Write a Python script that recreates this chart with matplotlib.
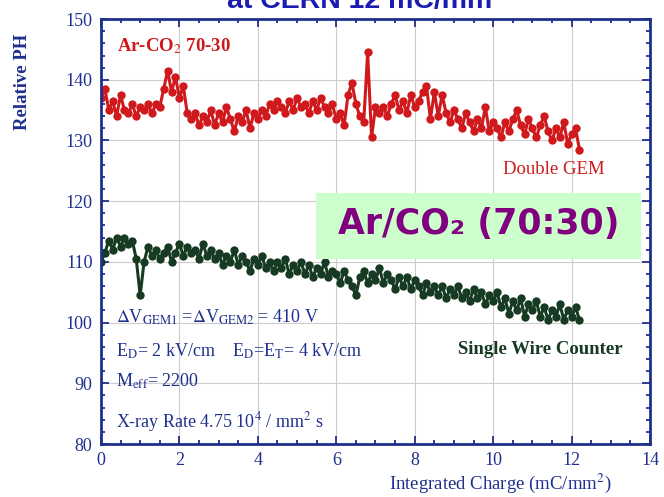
import numpy as np
import matplotlib
matplotlib.use('Agg')
import matplotlib.pyplot as plt
from matplotlib.ticker import MultipleLocator
from matplotlib.patches import Rectangle

plt.rcParams['font.family'] = ['Liberation Serif', 'DejaVu Serif']
plt.rcParams['mathtext.fontset'] = 'stix'

# integrated charge (mC/mm^2), one reading every 0.1
charge = np.round(np.arange(0, 12.25, 0.1), 1)

# Double GEM relative pulse height
gem_ph = [137, 138.5, 135, 136.5, 134, 137.5, 135, 134.5, 136, 134,
          135.5, 135, 136, 134.5, 136, 135.5, 138.5, 141.5, 138, 140.5,
          137, 139, 134.5, 133.5, 134.5, 132.5, 134, 133, 135, 132.5,
          134.5, 133, 135.5, 133.5, 131.5, 134, 133, 135, 132, 134.5,
          133.5, 135, 134, 136, 135, 136.5, 135.5, 134.5, 136.5, 135,
          137, 135.5, 136, 134.5, 136.5, 135, 137, 135.5, 134.5, 136,
          133.5, 134.5, 132.5, 137.5, 139.5, 136, 134, 133, 144.5, 130.5,
          135.5, 134.5, 135.5, 134, 136, 137.5, 135, 136.5, 134.5, 137.5,
          135.5, 136.5, 138, 139, 133.5, 138, 134, 137.5, 134.5, 133,
          135, 133.5, 132, 134.5, 133, 131.5, 133.5, 132, 135.5, 131.5,
          133, 132, 130.5, 133, 131.5, 133.5, 135, 132.5, 131, 133.5,
          132, 130.5, 132.5, 134, 131.5, 130, 132, 130.5, 133, 129.5,
          131, 132, 128.5]

# single wire counter relative pulse height
swc_ph = [110, 111.5, 113.5, 112, 114, 112.5, 114, 113, 113.5, 110.5,
          104.5, 110, 112.5, 111, 112, 110.5, 111.5, 112.5, 110, 111.5,
          113, 111, 112.5, 111.5, 112, 110.5, 113, 111, 112, 110.5,
          111.5, 109.5, 111, 110, 112, 109.5, 111, 110, 108.5, 110.5,
          109.5, 111, 109, 110, 108.5, 110, 109, 110.5, 108, 109.5,
          108.5, 110, 108, 109.5, 107.5, 109, 108, 110, 107.5, 108.5,
          108, 106.5, 108.5, 107, 106, 104.5, 107.5, 108.5, 106.5, 108,
          107, 109, 106.5, 108, 107, 105.5, 107.5, 106, 107.5, 105.5,
          107, 106, 104.5, 106.5, 105, 106, 104.5, 106, 104, 105.5,
          104.5, 106, 104, 105, 103.5, 105.5, 104, 105, 103, 104.5,
          103.5, 105, 102.5, 104, 101.5, 103.5, 102, 104, 101, 103,
          102, 103.5, 101, 102.5, 100.5, 102, 101, 103, 100.5, 102,
          101, 102.5, 100.5]

navy = '#1f2f8f'
red = '#d0191c'
green = '#173a22'

fig = plt.figure(figsize=(6.64, 4.97), dpi=100)
ax = fig.add_axes([0.152, 0.1066, 0.827, 0.855])

ax.plot(charge, gem_ph, '-o', color=red, ms=6, lw=2.2, mew=0)
ax.plot(charge, swc_ph, '-o', color=green, ms=6, lw=2.2, mew=0)

ax.set_xlim(0, 14)
ax.set_ylim(80, 150)
ax.xaxis.set_major_locator(MultipleLocator(2))
ax.xaxis.set_minor_locator(MultipleLocator(0.5))
ax.yaxis.set_major_locator(MultipleLocator(10))
ax.yaxis.set_minor_locator(MultipleLocator(2))
ax.grid(True, which='major', color='#cccccc', lw=0.8)
ax.set_axisbelow(True)
ax.tick_params(which='both', direction='in', top=True, right=True,
               color=navy, labelcolor=navy, labelsize=13, width=1.3)
ax.tick_params(which='major', length=6, pad=6)
ax.tick_params(which='minor', length=3)
for s in ax.spines.values():
    s.set_color(navy)
    s.set_linewidth(2)

ax.text(0.42, 145.5, 'Ar-CO$_2$ 70-30', color=red, fontsize=13.5,
        fontweight='bold', va='center')
ax.text(11.55, 125.2, 'Double GEM', color=red, fontsize=13.5, ha='center',
        va='center')
ax.text(11.2, 95.6, 'Single Wire Counter', color=green, fontsize=13.5,
        ha='center', va='center', fontweight='bold')

ax.add_patch(Rectangle((5.48, 110.5), 8.3, 10.8, fc='#ccffcc', ec='none',
                       zorder=3))
ax.text(9.62, 116.2, 'Ar/CO\u2082 (70:30)', color='#800080',
        fontsize=25, fontweight='bold', family='DejaVu Sans',
        ha='center', va='center', zorder=4)

info = ['$\\Delta$V$_{\\rm GEM1}$ =$\\Delta$V$_{\\rm GEM2}$ = 410 V',
        'E$_{\\rm D}$= 2 kV/cm    E$_{\\rm D}$=E$_{\\rm T}$= 4 kV/cm',
        'M$_{\\rm eff}$= 2200',
        'X-ray Rate 4.75 10$^4$ / mm$^2$ s']
for t, yy in zip(info, [100.8, 95.2, 90.3, 83.7]):
    ax.text(0.38, yy, t, color=navy, fontsize=13, va='center')

fig.text(0.034, 0.835, 'Relative PH', rotation=90, color=navy,
         fontsize=13.5, fontweight='bold', ha='center', va='center')
fig.text(0.753, 0.028, 'Integrated Charge (mC/mm$^2$)', color=navy,
         fontsize=13.5, ha='center', va='center')
fig.text(0.542, 0.984, 'at CERN 12 mC/mm', color='#1c1cb0', fontsize=20.5,
         fontweight='bold', family='Liberation Sans', ha='center',
         va='baseline')

fig.savefig('out.png', dpi=100)
